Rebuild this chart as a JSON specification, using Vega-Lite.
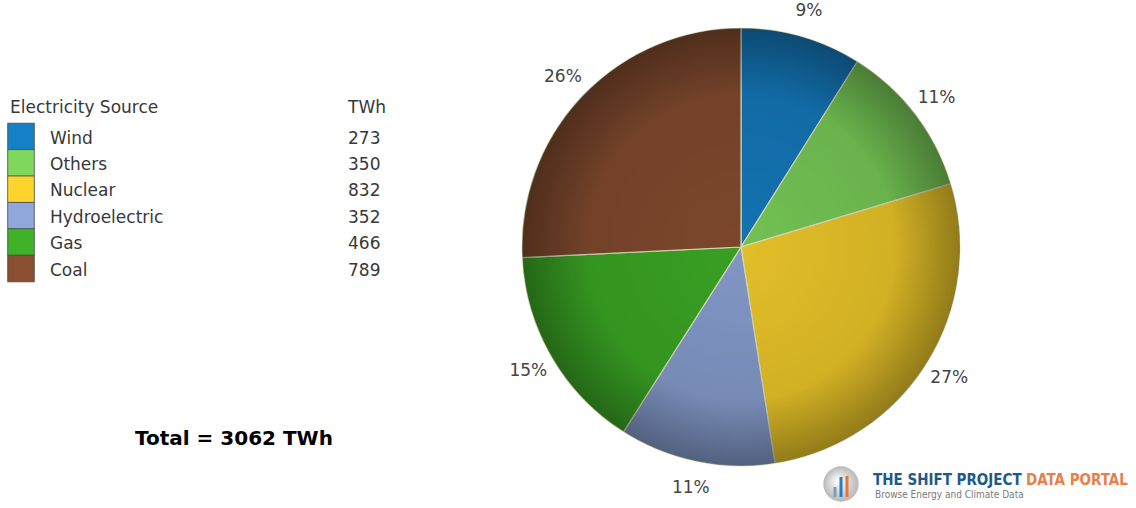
{
  "$schema": "https://vega.github.io/schema/vega-lite/v6.json",
  "padding": 0,
  "bounds": "flush",
  "spacing": 0,
  "background": "#ffffff",
  "config": {"view": {"stroke": null}, "text": {"font": "DejaVu Sans"}},
  "datasets": {
    "energy": [
      {"source": "Wind", "twh": 273, "pct": "9%"},
      {"source": "Others", "twh": 350, "pct": "11%"},
      {"source": "Nuclear", "twh": 832, "pct": "27%"},
      {"source": "Hydroelectric", "twh": 352, "pct": "11%"},
      {"source": "Gas", "twh": 466, "pct": "15%"},
      {"source": "Coal", "twh": 789, "pct": "26%"}
    ]
  },
  "hconcat": [
    {
      "width": 521,
      "height": 508,
      "title": {"text": "Total = 3062 TWh", "orient": "bottom", "anchor": "start", "frame": "group", "offset": -79, "dx": 135, "font": "DejaVu Sans", "fontSize": 20, "fontWeight": "bold", "color": "#000000"},
      "data": {"name": "energy"},
      "layer": [
        {
          "mark": {"type": "square", "size": 710, "filled": true, "opacity": 1, "stroke": "#4a4a4a", "strokeWidth": 0.8},
          "encoding": {
            "x": {"datum": "Electricity Source", "type": "nominal", "scale": {"type": "point", "domain": ["Electricity Source", "TWh"], "range": [21, 348], "padding": 0}, "axis": null},
            "y": {"field": "source", "type": "nominal", "scale": {"type": "band", "domain": ["header", "Wind", "Others", "Nuclear", "Hydroelectric", "Gas", "Coal"], "range": [96.9, 281.7], "paddingInner": 0, "paddingOuter": 0}, "axis": null},
            "color": {"field": "source", "type": "nominal", "scale": {"domain": ["Wind", "Others", "Nuclear", "Hydroelectric", "Gas", "Coal"], "range": ["#1580c6", "#7fd75c", "#fcd42c", "#8fa7db", "#3fb227", "#8a4f31"]}, "legend": null}
          }
        },
        {
          "mark": {"type": "text", "align": "left", "baseline": "alphabetic", "dx": 29, "dy": 7, "fontSize": 17, "fill": "#383838"},
          "encoding": {
            "x": {"datum": "Electricity Source", "type": "nominal"},
            "y": {"field": "source", "type": "nominal"},
            "text": {"field": "source"}
          }
        },
        {
          "mark": {"type": "text", "align": "left", "baseline": "alphabetic", "dy": 7, "fontSize": 17, "fill": "#383838"},
          "encoding": {
            "x": {"datum": "TWh", "type": "nominal"},
            "y": {"field": "source", "type": "nominal"},
            "text": {"field": "twh"}
          }
        },
        {
          "data": {"values": [{"col": "Electricity Source"}]},
          "mark": {"type": "text", "align": "left", "baseline": "alphabetic", "dx": -11, "dy": 3, "fontSize": 17, "fill": "#383838"},
          "encoding": {
            "x": {"field": "col", "type": "nominal"},
            "y": {"datum": "header", "type": "nominal"},
            "text": {"field": "col"}
          }
        },
        {
          "data": {"values": [{"col": "TWh"}]},
          "mark": {"type": "text", "align": "left", "baseline": "alphabetic", "dy": 3, "fontSize": 17, "fill": "#383838"},
          "encoding": {
            "x": {"field": "col", "type": "nominal"},
            "y": {"datum": "header", "type": "nominal"},
            "text": {"field": "col"}
          }
        }
      ]
    },
    {
      "width": 440,
      "height": 494,
      "data": {"name": "energy"},
      "layer": [
        {
          "mark": {"type": "arc", "radius": 219, "stroke": "#eef0c8", "strokeWidth": 1.2},
          "encoding": {
            "theta": {"field": "twh", "type": "quantitative", "stack": true},
            "order": {"field": "source", "type": "ordinal", "sort": "descending"},
            "color": {"field": "source", "type": "nominal", "scale": {"domain": ["Wind", "Others", "Nuclear", "Hydroelectric", "Gas", "Coal"], "range": ["#1580c6", "#7fd75c", "#fcd42c", "#8fa7db", "#3fb227", "#8a4f31"]}, "legend": null}
          }
        },
        {
          "mark": {"type": "arc", "radius": 219, "fill": {"gradient": "radial", "x1": 0.5, "y1": 0.5, "r1": 0, "x2": 0.5, "y2": 0.5, "r2": 0.5, "stops": [{"offset": 0, "color": "rgba(0,0,0,0.1)"}, {"offset": 0.7, "color": "rgba(0,0,0,0.17)"}, {"offset": 1, "color": "rgba(0,0,0,0.42)"}]}},
          "encoding": {
            "theta": {"aggregate": "sum", "field": "twh", "type": "quantitative"}
          }
        },
        {
          "mark": {"type": "text", "radius": 246, "fontSize": 17, "fill": "#444444"},
          "encoding": {
            "theta": {"field": "twh", "type": "quantitative", "stack": true},
            "order": {"field": "source", "type": "ordinal", "sort": "descending"},
            "text": {"field": "pct"}
          }
        },
        {
          "data": {"values": [{"k": "icon"}]},
          "mark": {"type": "circle", "size": 1250, "opacity": 1, "fill": {"gradient": "radial", "x1": 0.4, "y1": 0.4, "r1": 0, "x2": 0.5, "y2": 0.5, "r2": 0.5, "stops": [{"offset": 0, "color": "#ffffff"}, {"offset": 1, "color": "#b8b8b8"}]}},
          "encoding": {"x": {"value": 320}, "y": {"value": 484}}
        },
        {
          "data": {"values": [{"k": "a"}]},
          "mark": {"type": "rule", "strokeWidth": 3, "color": "#7a9cc0"},
          "encoding": {"x": {"value": 314}, "y": {"value": 487}, "y2": {"value": 497}}
        },
        {
          "data": {"values": [{"k": "b"}]},
          "mark": {"type": "rule", "strokeWidth": 3, "color": "#2b7bc4"},
          "encoding": {"x": {"value": 320}, "y": {"value": 477}, "y2": {"value": 497}}
        },
        {
          "data": {"values": [{"k": "c"}]},
          "mark": {"type": "rule", "strokeWidth": 3, "color": "#e8763a"},
          "encoding": {"x": {"value": 326}, "y": {"value": 476}, "y2": {"value": 497}}
        },
        {
          "data": {"values": [{"label": "THE SHIFT PROJECT"}]},
          "mark": {"type": "text", "align": "left", "baseline": "alphabetic", "font": "DejaVu Sans Condensed", "fontWeight": "bold", "fontSize": 15, "fill": "#1e5a88"},
          "encoding": {"x": {"value": 352}, "y": {"value": 485}, "text": {"field": "label"}}
        },
        {
          "data": {"values": [{"label": "DATA PORTAL"}]},
          "mark": {"type": "text", "align": "left", "baseline": "alphabetic", "font": "DejaVu Sans Condensed", "fontWeight": "bold", "fontSize": 15, "fill": "#e5804c"},
          "encoding": {"x": {"value": 505}, "y": {"value": 485}, "text": {"field": "label"}}
        },
        {
          "data": {"values": [{"label": "Browse Energy and Climate Data"}]},
          "mark": {"type": "text", "align": "left", "baseline": "alphabetic", "font": "DejaVu Sans Condensed", "fontSize": 10, "fill": "#7a7a7a"},
          "encoding": {"x": {"value": 354}, "y": {"value": 498}, "text": {"field": "label"}}
        }
      ]
    }
  ]
}
